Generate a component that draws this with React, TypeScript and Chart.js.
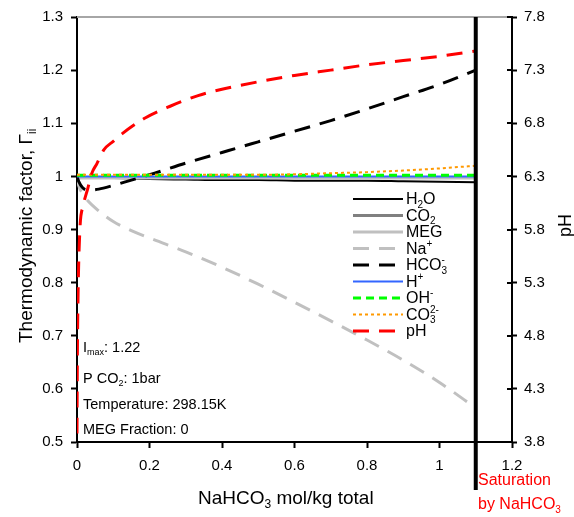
import React, { useEffect, useRef } from "react";
import { Chart, registerables } from "chart.js";

Chart.register(...registerables);

const FONT = "'Liberation Sans', Arial, sans-serif";

// common composition grid (mol/kg)
const xGrid = [0, 0.005, 0.015, 0.03, 0.06, 0.1, 0.15, 0.2, 0.3, 0.4, 0.5, 0.6, 0.7, 0.8, 0.9, 1.0, 1.1];
const gH2O = [1.0, 1.0, 0.999, 0.999, 0.998, 0.997, 0.996, 0.995, 0.994, 0.993, 0.993, 0.992, 0.992, 0.992, 0.991, 0.99, 0.989];
const gCO2 = [0.998, 0.998, 0.998, 0.998, 0.998, 0.998, 0.998, 0.998, 0.998, 0.998, 0.998, 0.998, 0.998, 0.998, 0.998, 0.998, 0.998];
const gMEG = [0.997, 0.997, 0.997, 0.997, 0.997, 0.997, 0.997, 0.997, 0.997, 0.997, 0.997, 0.997, 0.997, 0.997, 0.997, 0.997, 0.997];
const gNa = [1.0, 0.982, 0.968, 0.954, 0.935, 0.915, 0.898, 0.884, 0.858, 0.829, 0.797, 0.763, 0.728, 0.692, 0.654, 0.612, 0.564];
const gHCO3 = [1.0, 0.99, 0.979, 0.974, 0.976, 0.983, 0.993, 1.003, 1.025, 1.045, 1.065, 1.085, 1.105, 1.127, 1.15, 1.173, 1.2];
const gH = [1.0, 1.0, 1.0, 1.0, 1.0, 1.0, 1.0, 1.0, 1.0, 1.0, 1.0, 1.0, 1.0, 1.0, 1.0, 1.0, 1.0];
const gOH = [1.002, 1.002, 1.002, 1.002, 1.002, 1.002, 1.002, 1.002, 1.002, 1.002, 1.002, 1.002, 1.002, 1.002, 1.002, 1.002, 1.002];
const gCO3 = [1.003, 1.003, 1.003, 1.003, 1.003, 1.003, 1.003, 1.003, 1.003, 1.003, 1.003, 1.004, 1.006, 1.008, 1.011, 1.015, 1.02];

// pH on secondary axis
const xPH = [0, 0.001, 0.003, 0.008, 0.017, 0.03, 0.041, 0.055, 0.074, 0.1, 0.124, 0.188, 0.257, 0.334, 0.4, 0.5, 0.6, 0.7, 0.8, 0.9, 1.0, 1.1];
const pH = [3.88, 4.6, 5.2, 5.8, 6.02, 6.19, 6.33, 6.42, 6.55, 6.63, 6.7, 6.85, 6.96, 7.06, 7.12, 7.19, 7.25, 7.3, 7.35, 7.39, 7.43, 7.48];

const xTicks = [0, 0.2, 0.4, 0.6, 0.8, 1.0, 1.2];
const yTicks = [0.5, 0.6, 0.7, 0.8, 0.9, 1.0, 1.1, 1.2, 1.3];
const pHTicks = [3.8, 4.3, 4.8, 5.3, 5.8, 6.3, 6.8, 7.3, 7.8];
const saturationX = 1.1;

type Part = { t: string; sub?: boolean; sup?: boolean };

const legendItems: { parts: Part[] }[] = [
  { parts: [{ t: "H" }, { t: "2", sub: true }, { t: "O" }] },
  { parts: [{ t: "CO" }, { t: "2", sub: true }] },
  { parts: [{ t: "MEG" }] },
  { parts: [{ t: "Na" }, { t: "+", sup: true }] },
  { parts: [{ t: "HCO" }, { t: "3", sub: true }, { t: "-", sup: true }] },
  { parts: [{ t: "H" }, { t: "+", sup: true }] },
  { parts: [{ t: "OH" }, { t: "-", sup: true }] },
  { parts: [{ t: "CO" }, { t: "3", sub: true }, { t: "2-", sup: true }] },
  { parts: [{ t: "pH" }] },
];

function drawRich(ctx: CanvasRenderingContext2D, parts: Part[], x: number, y: number, size: number, color: string) {
  ctx.save();
  ctx.fillStyle = color;
  ctx.textBaseline = "middle";
  ctx.textAlign = "left";
  let cx = x;
  let lastWasSub = false;
  let subStart = 0;
  for (const p of parts) {
    if (p.sub || p.sup) {
      const s = Math.round(size * 0.62);
      ctx.font = `${s}px ${FONT}`;
      const dy = p.sub ? size * 0.3 : -size * 0.35;
      let px = cx;
      if (p.sup && lastWasSub) px = subStart;
      ctx.fillText(p.t, px, y + dy);
      const w = ctx.measureText(p.t).width;
      if (p.sub) {
        subStart = cx;
        lastWasSub = true;
        cx += w;
      } else {
        cx = Math.max(cx, px + w);
        lastWasSub = false;
      }
    } else {
      ctx.font = `${size}px ${FONT}`;
      ctx.fillText(p.t, cx, y);
      cx += ctx.measureText(p.t).width;
      lastWasSub = false;
    }
  }
  ctx.restore();
  return cx - x;
}

function pts(xs: number[], ys: number[]) {
  return xs.map((x, i) => ({ x, y: ys[i] }));
}

export default function App() {
  const ref = useRef<HTMLCanvasElement>(null);

  useEffect(() => {
    if (!ref.current) return;

    const specs = [
      { data: pts(xGrid, gH2O), color: "#000000", width: 2, dash: [] as number[], axis: "y" },
      { data: pts(xGrid, gCO2), color: "#808080", width: 3, dash: [], axis: "y" },
      { data: pts(xGrid, gMEG), color: "#c0c0c0", width: 3, dash: [], axis: "y" },
      { data: pts(xGrid, gNa), color: "#c0c0c0", width: 3, dash: [16, 10], axis: "y" },
      { data: pts(xGrid, gHCO3), color: "#000000", width: 3, dash: [16, 10], axis: "y" },
      { data: pts(xGrid, gH), color: "#3366ff", width: 2, dash: [], axis: "y" },
      { data: pts(xGrid, gOH), color: "#00ff00", width: 3, dash: [8, 5], axis: "y" },
      { data: pts(xGrid, gCO3), color: "#ff9900", width: 2, dash: [3, 3], axis: "y" },
      { data: pts(xPH, pH), color: "#ff0000", width: 3, dash: [16, 10], axis: "y2" },
    ];
    const n = specs.length;

    const overlay = {
      id: "overlay",
      beforeDatasetsDraw(chart: any) {
        const ctx = chart.ctx as CanvasRenderingContext2D;
        const a = chart.chartArea;
        ctx.save();
        ctx.strokeStyle = "#a6a6a6";
        ctx.lineWidth = 2;
        ctx.beginPath();
        ctx.moveTo(a.left, a.top);
        ctx.lineTo(a.right, a.top);
        ctx.stroke();
        ctx.restore();
      },
      afterDraw(chart: any) {
        const ctx = chart.ctx as CanvasRenderingContext2D;
        const a = chart.chartArea;
        const xs = chart.scales.x;
        const y2 = chart.scales.y2;

        // inner tick marks on secondary axis
        ctx.save();
        ctx.strokeStyle = "#000";
        ctx.lineWidth = 2;
        for (const v of pHTicks) {
          const py = Math.round(y2.getPixelForValue(v));
          ctx.beginPath();
          ctx.moveTo(a.right - 5, py);
          ctx.lineTo(a.right, py);
          ctx.stroke();
        }
        // saturation line
        const sx = xs.getPixelForValue(saturationX);
        ctx.lineWidth = 4;
        ctx.beginPath();
        ctx.moveTo(sx, a.top);
        ctx.lineTo(sx, 490);
        ctx.stroke();
        ctx.restore();

        // legend
        const lx0 = 353;
        const lx1 = 403;
        const ly0 = 199;
        const lstep = 16.5;
        specs.forEach((s, i) => {
          const y = ly0 + i * lstep;
          ctx.save();
          ctx.strokeStyle = s.color;
          ctx.lineWidth = s.width;
          ctx.setLineDash(s.dash);
          ctx.beginPath();
          ctx.moveTo(lx0, y);
          ctx.lineTo(lx1, y);
          ctx.stroke();
          ctx.restore();
          drawRich(ctx, legendItems[i].parts, 406, y + 1, 16, "#000");
        });

        // annotations
        const af = 14.5;
        drawRich(ctx, [{ t: "I" }, { t: "max", sub: true }, { t: ": 1.22" }], 83, 348, af, "#000");
        drawRich(ctx, [{ t: "P CO" }, { t: "2", sub: true }, { t: ": 1bar" }], 83, 379, af, "#000");
        drawRich(ctx, [{ t: "Temperature: 298.15K" }], 83, 405, af, "#000");
        drawRich(ctx, [{ t: "MEG Fraction: 0" }], 83, 430, af, "#000");

        // x title
        drawRich(ctx, [{ t: "NaHCO" }, { t: "3", sub: true }, { t: " mol/kg total" }], 198, 499, 19, "#000");

        // saturation label
        drawRich(ctx, [{ t: "Saturation" }], 478, 481, 16, "#ff0000");
        drawRich(ctx, [{ t: "by NaHCO" }, { t: "3", sub: true }], 478, 505, 16, "#ff0000");

        // y title
        ctx.save();
        ctx.translate(27, 343);
        ctx.rotate(-Math.PI / 2);
        drawRich(ctx, [{ t: "Thermodynamic factor, Γ" }, { t: "ii", sub: true }], 0, 0, 19, "#000");
        ctx.restore();

        // pH title
        ctx.save();
        ctx.translate(566, 237);
        ctx.rotate(-Math.PI / 2);
        drawRich(ctx, [{ t: "pH" }], 0, 0, 18, "#000");
        ctx.restore();
      },
    };

    const fmt = (v: any) => String(Number(Number(v).toFixed(2)));

    const chart = new Chart(ref.current, {
      type: "line",
      data: {
        datasets: specs.map((s, i) => ({
          label: String(i),
          data: s.data,
          borderColor: s.color,
          backgroundColor: s.color,
          borderWidth: s.width,
          borderDash: s.dash,
          pointRadius: 0,
          fill: false,
          tension: 0,
          cubicInterpolationMode: "monotone" as const,
          yAxisID: s.axis,
          order: n - 1 - i,
        })),
      },
      options: {
        animation: false,
        responsive: false,
        layout: { padding: { top: 12, left: 0, right: 0, bottom: 0 } },
        plugins: { legend: { display: false }, tooltip: { enabled: false } },
        scales: {
          x: {
            type: "linear",
            min: 0,
            max: 1.2,
            afterBuildTicks: (s: any) => { s.ticks = xTicks.map((v) => ({ value: v })); },
            afterFit: (s: any) => { s.height = 75; },
            border: { display: true, color: "#000", width: 2 },
            grid: { display: true, drawOnChartArea: false, drawTicks: true, tickLength: 6, tickColor: "#000", tickWidth: 2 },
            ticks: { callback: fmt, color: "#000", font: { family: FONT, size: 15 }, padding: 9, maxRotation: 0, autoSkip: false },
          },
          y: {
            type: "linear",
            position: "left",
            min: 0.5,
            max: 1.3,
            afterBuildTicks: (s: any) => { s.ticks = yTicks.map((v) => ({ value: v })); },
            afterFit: (s: any) => { s.width = 77; },
            border: { display: true, color: "#000", width: 2 },
            grid: { display: true, drawOnChartArea: false, drawTicks: true, tickLength: 6, tickColor: "#000", tickWidth: 2 },
            ticks: { callback: fmt, color: "#000", font: { family: FONT, size: 15 }, padding: 8, autoSkip: false },
          },
          y2: {
            type: "linear",
            position: "right",
            min: 3.8,
            max: 7.8,
            afterBuildTicks: (s: any) => { s.ticks = pHTicks.map((v) => ({ value: v })); },
            afterFit: (s: any) => { s.width = 62; },
            border: { display: true, color: "#000", width: 2 },
            grid: { display: true, drawOnChartArea: false, drawTicks: true, tickLength: 5, tickColor: "#000", tickWidth: 2 },
            ticks: { callback: fmt, color: "#000", font: { family: FONT, size: 15 }, padding: 7, autoSkip: false },
          },
        },
      },
      plugins: [overlay],
    } as any);

    return () => chart.destroy();
  }, []);

  return (
    <div style={{ position: "absolute", left: 0, top: 0, width: 574, height: 517, background: "#fff" }}>
      <canvas ref={ref} width={574} height={517} style={{ width: 574, height: 517, display: "block" }} />
    </div>
  );
}
